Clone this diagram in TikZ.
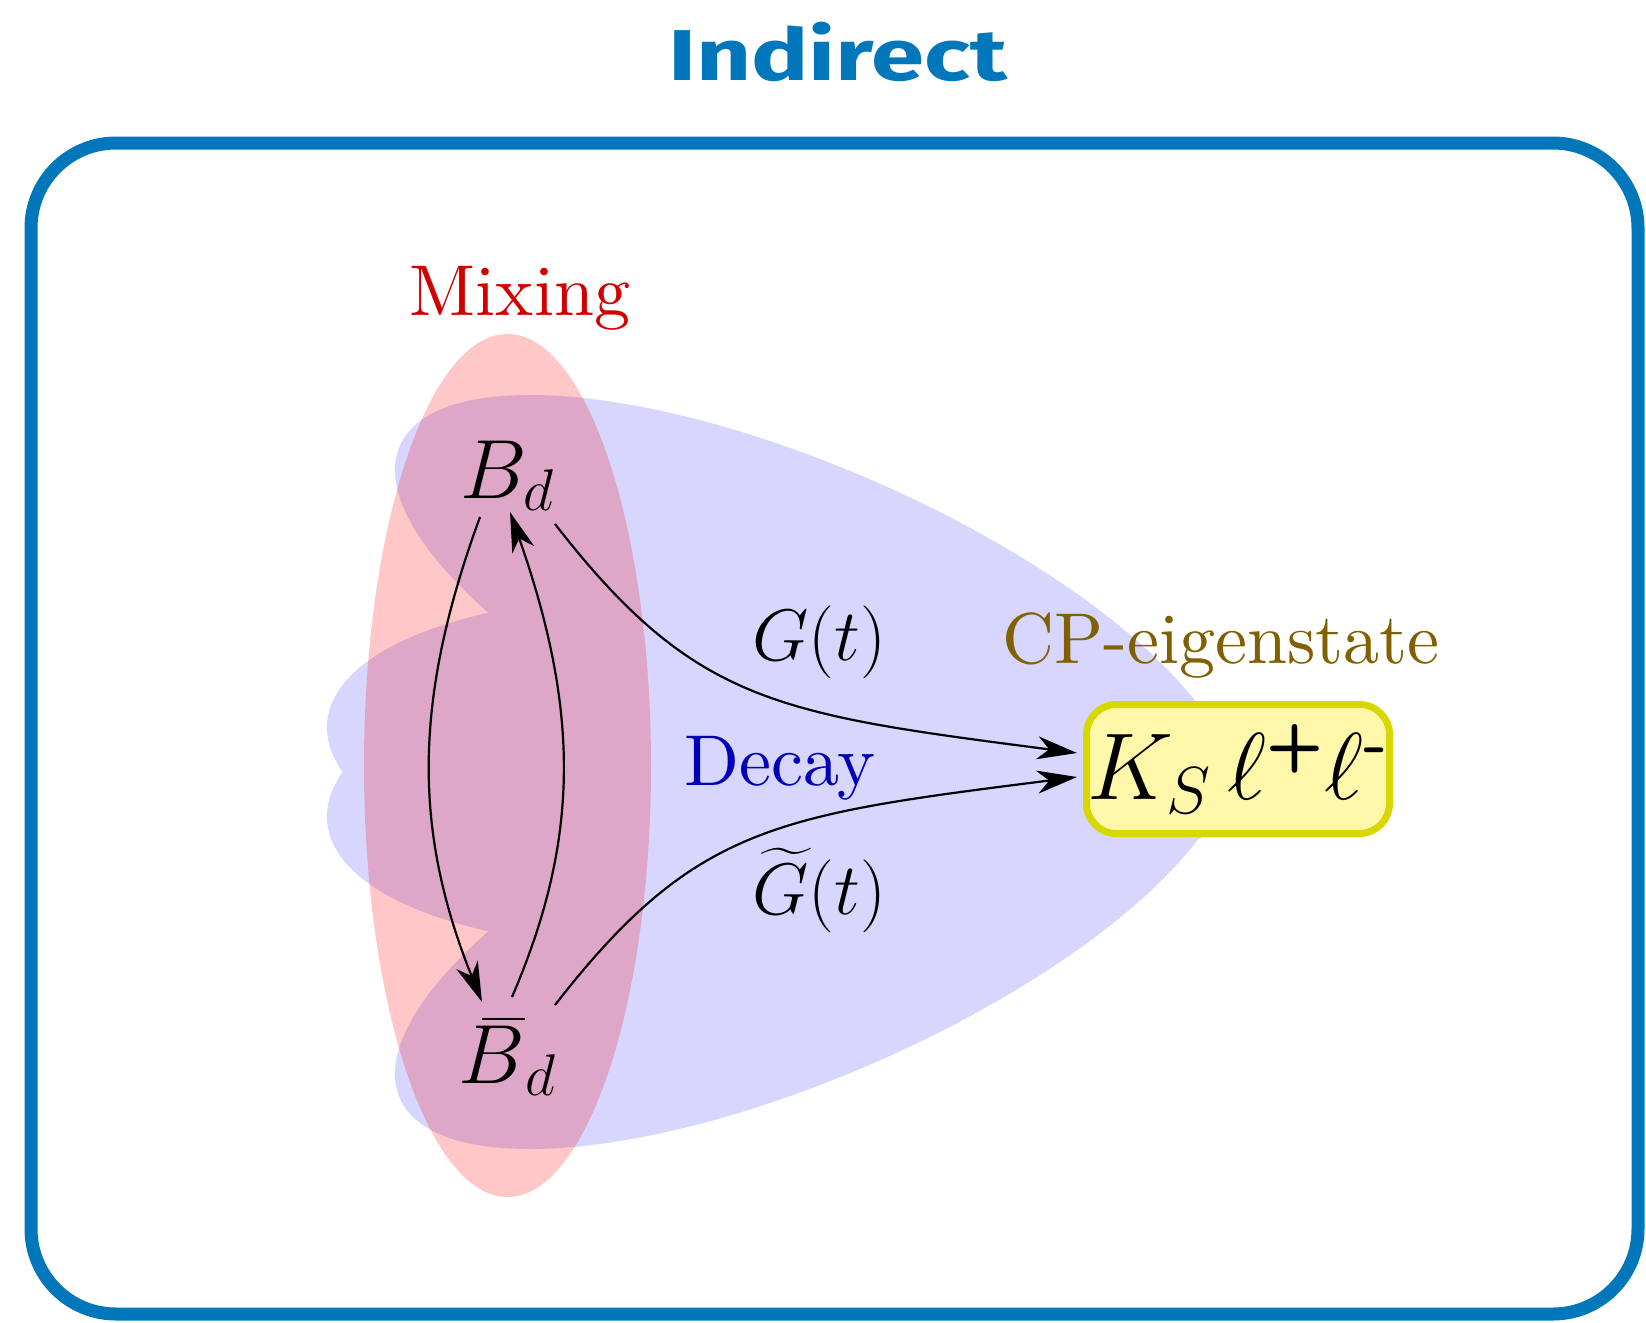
\RequirePackage{fix-cm}
\documentclass[tikz,border=0pt]{standalone}
\usepackage{amsmath}
\usepackage{graphicx}
\usepackage{fontspec}
\newfontfamily\chalkfont{Fira Sans}
\newfontfamily\lmten{lmroman10-regular}[Extension=.otf]
\usetikzlibrary{arrows.meta,calc}
\definecolor{framecol}{RGB}{0,119,187}
\definecolor{mixcol}{RGB}{210,0,0}
\definecolor{decaycol}{RGB}{0,0,185}
\definecolor{cpcol}{RGB}{128,96,0}
\definecolor{ksfill}{RGB}{255,247,170}
\definecolor{ksdraw}{RGB}{216,216,0}
\begin{document}
\begin{tikzpicture}[x=0.5pt,y=-0.5pt,
  lab/.style={inner sep=0pt, anchor=base, font=\lmten\fontsize{36}{40}\selectfont},
  glab/.style={inner sep=0pt, anchor=base, font=\fontsize{36.5}{40}\selectfont},
  meson/.style={inner sep=0pt, anchor=base, font=\fontsize{42}{50}\selectfont},
  arr/.style={line width=1.1pt, -{Stealth[length=20pt,width=11.5pt,inset=6pt]}},
  decayblob/.style={fill=blue, opacity=0.16},
  mixblob/.style={fill=red, opacity=0.22},
  framebox/.style={draw=framecol, line width=6.5pt, line join=round, rounded corners=42.5pt},
  ksbox/.style={draw=ksdraw, fill=ksfill, line width=3.5pt, rounded corners=15pt,
    minimum width=151.5pt, minimum height=64.5pt, inner sep=0pt, outer sep=0pt,
    font=\fontsize{47.5}{52}\selectfont}
  ]
\useasboundingbox (0,0) rectangle (1646,1323);
% frame
\draw[framebox] (31,143) rectangle (1638,1314);
% title
\node[inner sep=0pt, anchor=base, text=framecol, font=\chalkfont\bfseries\fontsize{36}{40}\selectfont] (title) at (837.5,80) {\scalebox{1.33}[1]{Indirect}};
% decay region
\path[decayblob]
  (813.5,627.5) ellipse[x radius=451.8, y radius=158.4, rotate=-23.72]
  (813.5,916.5) ellipse[x radius=451.8, y radius=158.4, rotate=23.72]
  (745.6,758.6) ellipse[x radius=420, y radius=160, rotate=-5]
  (745.6,785.4) ellipse[x radius=420, y radius=160, rotate=5];
% mixing region
\path[mixblob] (507.5,765.5) ellipse[x radius=143.5, y radius=431.5];
% labels
\node[lab, text=mixcol] (mix) at (520,315) {Mixing};
\node[lab, text=decaycol] (decay) at (780,785) {Decay};
\node[lab, text=cpcol] (cp) at (1221,663) {CP-eigenstate};
\node[glab] (G) at (819,660) {$G(t)$};
\node[glab] (Gt) at (819,914) {$\widetilde{G}(t)$};
% states
\node[meson] (Bd) at (507.5,498) {$B_d$};
\node[meson] (Bb) at (507.5,1083) {${\mkern5mu\overline{\mkern-5mu B}}_d$};
\node[ksbox] (KS) at (1238,769) {$K_S\,\ell^{\text{\sffamily\bfseries +}}\ell^{\text{\sffamily\bfseries -}}$};
% arrows
\draw[arr] ($(Bd.base)+(-27.5,19)$) .. controls +(-67,183) and +(-69,-172) .. ($(Bb.base)+(-25.5,-81)$);
\draw[arr] ($(Bb.base)+(4.5,-86)$) .. controls +(68,-158) and +(70,200) .. ($(Bd.base)+(2.5,14)$);
\draw[arr] ($(Bd.base)+(47.5,26)$) .. controls +(140,180) and +(-300,-39) .. ($(KS.west)+(-9.5,-16)$);
\draw[arr] ($(Bb.base)+(47.5,-78)$) .. controls +(140,-180) and +(-300,38) .. ($(KS.west)+(-9.5,8)$);
\end{tikzpicture}
\end{document}
